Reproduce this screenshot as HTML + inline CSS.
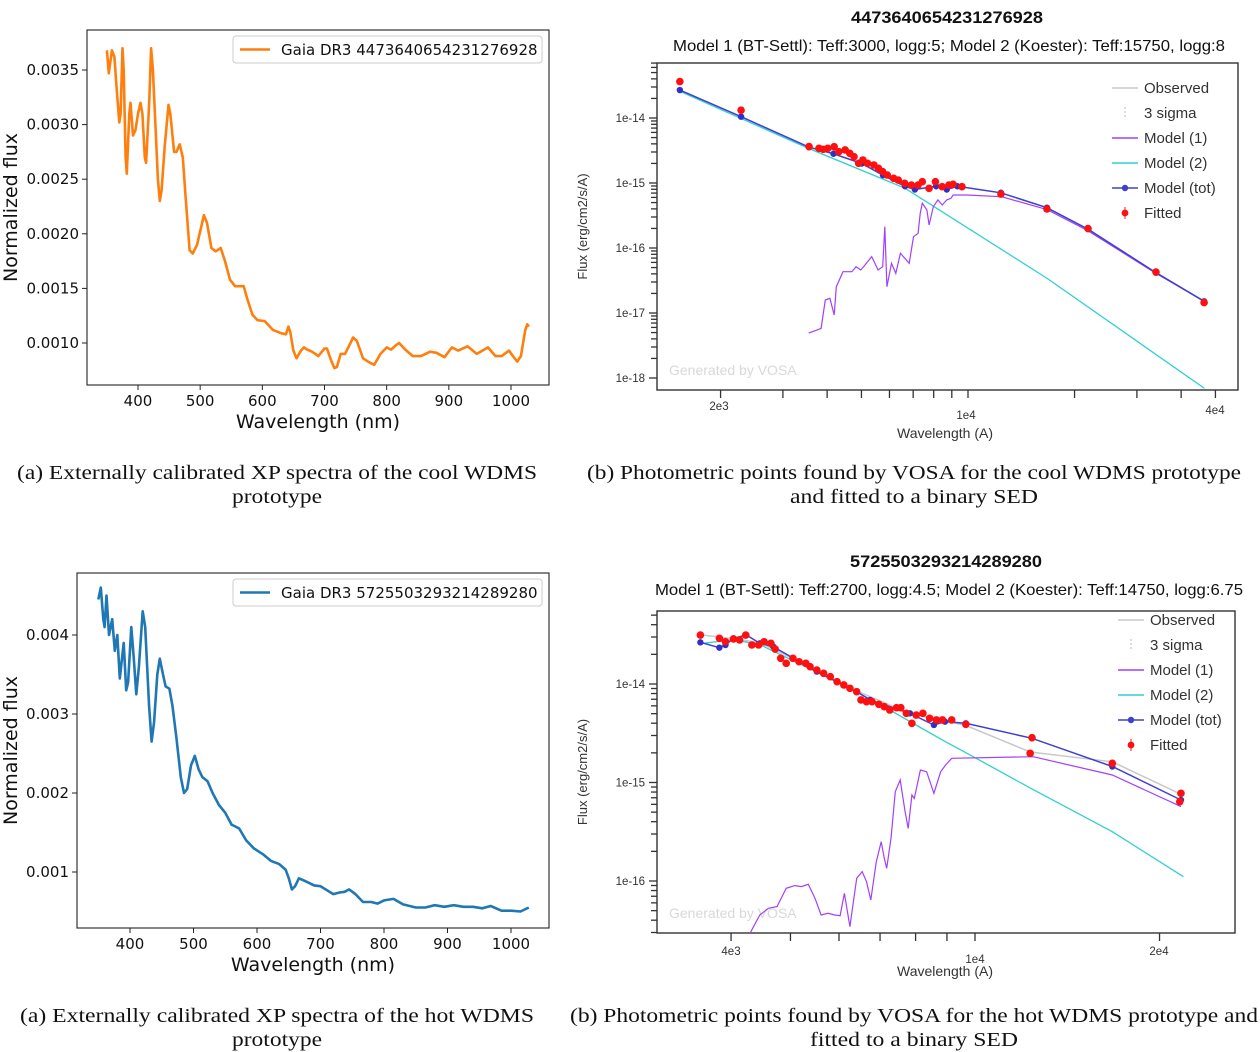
<!DOCTYPE html>
<html><head><meta charset="utf-8"><style>
body{margin:0;background:#fff;width:1260px;height:1052px;overflow:hidden}
svg{display:block}
.mpl{font-family:"DejaVu Sans","Liberation Sans",sans-serif}
.vs{font-family:"Liberation Sans",sans-serif}
.cap{font-family:"Liberation Serif",serif;font-size:20px;fill:#111}
</style></head><body>
<svg id="fig" width="1260" height="1052" viewBox="0 0 1260 1052" xmlns="http://www.w3.org/2000/svg">
<text class="cap" x="17" y="479" textLength="520" lengthAdjust="spacingAndGlyphs">(a) Externally calibrated XP spectra of the cool WDMS</text>
<text class="cap" x="232" y="503" textLength="90" lengthAdjust="spacingAndGlyphs">prototype</text>
<text class="cap" x="587" y="479" textLength="654" lengthAdjust="spacingAndGlyphs">(b) Photometric points found by VOSA for the cool WDMS prototype</text>
<text class="cap" x="790" y="503" textLength="248" lengthAdjust="spacingAndGlyphs">and fitted to a binary SED</text>
<text class="cap" x="20" y="1022" textLength="514" lengthAdjust="spacingAndGlyphs">(a) Externally calibrated XP spectra of the hot WDMS</text>
<text class="cap" x="232" y="1046" textLength="90" lengthAdjust="spacingAndGlyphs">prototype</text>
<text class="cap" x="570" y="1022" textLength="688" lengthAdjust="spacingAndGlyphs">(b) Photometric points found by VOSA for the hot WDMS prototype and</text>
<text class="cap" x="810" y="1046" textLength="208" lengthAdjust="spacingAndGlyphs">fitted to a binary SED</text>
</svg>
<script>
// ---------- data: cool spectrum ----------
const coolWave=[350,353,358,362,366,370,372,375,377,380,382,386,388,392,396,400,404,407,411,413,418,421,424,428,432,435,438,443,449,452,458,462,467,472,477,483,488,495,506,511,518,525,533,540,548,556,570,576,584,592,604,617,630,638,642,645,650,655,662,667,672,680,690,700,704,710,716,720,726,733,740,746,752,762,770,780,790,800,807,815,820,830,842,855,870,880,893,905,915,930,945,963,975,985,997,1003,1010,1016,1023,1026,1029];
const coolFlux=[0.00368,0.00347,0.00368,0.00362,0.0033,0.00302,0.0031,0.0037,0.0035,0.0027,0.00255,0.0031,0.0032,0.0029,0.00295,0.0031,0.0032,0.0031,0.0027,0.00265,0.0032,0.0037,0.0035,0.003,0.0025,0.0023,0.0024,0.0028,0.00318,0.0031,0.00275,0.00275,0.00282,0.0027,0.0023,0.00185,0.00182,0.0019,0.00217,0.0021,0.00187,0.00184,0.00187,0.00175,0.00158,0.00152,0.00152,0.0014,0.00126,0.00121,0.0012,0.00112,0.00109,0.00108,0.00115,0.0011,0.00093,0.00086,0.00093,0.00096,0.00094,0.00092,0.00088,0.00095,0.00095,0.00085,0.00077,0.00078,0.0009,0.0009,0.00098,0.00105,0.00102,0.00086,0.00083,0.0008,0.0009,0.00096,0.00094,0.00098,0.001,0.00094,0.00088,0.00088,0.00092,0.00091,0.00087,0.00096,0.00093,0.00097,0.0009,0.00096,0.00088,0.00088,0.00093,0.00088,0.00083,0.00088,0.00112,0.00117,0.00115];
const coolYTicks=[0.0010,0.0015,0.0020,0.0025,0.0030,0.0035];
const coolYLabels=["0.0010","0.0015","0.0020","0.0025","0.0030","0.0035"];
// ---------- data: hot spectrum ----------
const hotWave=[350,354,358,360,363,367,372,376,380,384,390,394,397,402,406,410,414,420,424,430,434,438,443,447,452,456,462,467,473,480,485,490,496,502,508,514,522,530,540,550,560,572,583,595,610,622,635,645,650,655,660,666,672,680,690,700,710,720,730,738,745,755,767,780,790,800,815,830,850,865,880,895,910,925,940,955,968,985,1000,1015,1028];
const hotFlux=[0.00445,0.0046,0.0042,0.0041,0.0045,0.004,0.0042,0.0038,0.004,0.00345,0.0039,0.0033,0.0034,0.0041,0.0037,0.00325,0.0036,0.0043,0.0041,0.0031,0.00265,0.0029,0.0035,0.0037,0.0035,0.00335,0.00332,0.0031,0.0027,0.0022,0.002,0.00205,0.00235,0.00247,0.0023,0.0022,0.00215,0.002,0.00185,0.00175,0.0016,0.00155,0.0014,0.0013,0.00122,0.00114,0.0011,0.00103,0.00092,0.00078,0.00082,0.00092,0.0009,0.00087,0.00083,0.00082,0.00077,0.00072,0.00074,0.00075,0.00078,0.00072,0.00062,0.00062,0.0006,0.00064,0.00066,0.00059,0.00055,0.00055,0.00058,0.00056,0.00058,0.00056,0.00056,0.00054,0.00057,0.00051,0.00051,0.0005,0.00055];
const hotYTicks=[0.001,0.002,0.003,0.004];
const hotYLabels=["0.001","0.002","0.003","0.004"];
const nmTicks=[400,500,600,700,800,900,1000];
// ---------- data: VOSA cool (log10 wavelength A, log10 flux) ----------
const c1TotLogW=[3.186,3.359,3.551,3.62,3.7,3.76,3.822,3.85,3.91,3.94,3.97,4.093,4.223,4.339,4.531,4.667];
const c1TotLogF=[-13.57,-13.98,-14.45,-14.55,-14.7,-14.88,-15.05,-15.1,-15.05,-15.1,-15.05,-15.15,-15.38,-15.71,-16.38,-16.82];
const c1FitLogW=[3.186,3.359,3.551,3.579,3.591,3.604,3.622,3.635,3.653,3.666,3.678,3.691,3.703,3.716,3.734,3.747,3.759,3.772,3.790,3.803,3.821,3.840,3.859,3.871,3.890,3.908,3.927,3.946,3.958,3.983,4.093,4.223,4.339,4.531,4.667];
const c1FitLogF=[-13.44,-13.88,-14.44,-14.467,-14.482,-14.467,-14.441,-14.518,-14.492,-14.543,-14.595,-14.697,-14.646,-14.697,-14.723,-14.774,-14.826,-14.877,-14.928,-14.954,-15.005,-15.031,-15.031,-14.98,-15.082,-14.98,-15.057,-15.031,-15.02,-15.057,-15.17,-15.4,-15.7,-16.37,-16.84];
const c1M1LogW=[3.550,3.585,3.597,3.610,3.622,3.628,3.647,3.672,3.684,3.697,3.709,3.728,3.746,3.759,3.765,3.771,3.784,3.796,3.809,3.834,3.846,3.859,3.865,3.871,3.884,3.890,3.902,3.915,3.927,3.940,3.952,3.958,3.996,4.095,4.224,4.338,4.531,4.668];
const c1M1LogF=[-17.31,-17.237,-16.8,-16.774,-17.03,-16.595,-16.364,-16.364,-16.287,-16.338,-16.262,-16.133,-16.338,-16.287,-15.67,-16.595,-16.236,-16.39,-16.082,-16.236,-15.826,-15.774,-15.467,-15.31,-15.415,-15.646,-15.364,-15.26,-15.338,-15.26,-15.236,-15.185,-15.185,-15.21,-15.41,-15.733,-16.39,-16.82];
const c1M2LogW=[3.186,3.551,3.822,4.224,4.668];
const c1M2LogF=[-13.59,-14.47,-15.08,-16.47,-18.16];
const c1XMinor=[2000,3000,4000,5000,6000,7000,8000,9000,10000,20000,30000,40000,50000];
// ---------- data: VOSA hot ----------
const h2FitLogW=[3.552,3.583,3.593,3.606,3.616,3.626,3.636,3.647,3.656,3.667,3.674,3.683,3.692,3.703,3.713,3.724,3.731,3.742,3.753,3.764,3.775,3.786,3.796,3.807,3.814,3.823,3.832,3.843,3.852,3.861,3.872,3.879,3.888,3.897,3.904,3.915,3.926,3.937,3.947,3.962,3.985,4.093,4.090,4.224,4.336,4.334];
const h2FitLogF=[-13.503,-13.536,-13.571,-13.543,-13.553,-13.503,-13.604,-13.604,-13.571,-13.587,-13.645,-13.739,-13.790,-13.739,-13.774,-13.790,-13.824,-13.858,-13.891,-13.926,-13.977,-14.010,-14.044,-14.078,-14.162,-14.180,-14.180,-14.206,-14.230,-14.264,-14.240,-14.240,-14.298,-14.399,-14.315,-14.298,-14.348,-14.365,-14.365,-14.365,-14.409,-14.545,-14.704,-14.805,-15.110,-15.195];
const h2TotLogW=[3.552,3.583,3.593,3.606,3.627,3.649,3.671,3.742,3.807,3.829,3.894,3.933,3.951,3.985,4.093,4.224,4.336];
const h2TotLogF=[-13.577,-13.631,-13.604,-13.536,-13.503,-13.587,-13.621,-13.874,-14.078,-14.162,-14.298,-14.416,-14.382,-14.399,-14.551,-14.838,-15.178];
const h2ObsLogW=[3.552,3.606,3.649,3.742,3.807,3.894,3.985,4.090,4.224,4.336];
const h2ObsLogF=[-13.50,-13.54,-13.58,-13.86,-14.07,-14.30,-14.42,-14.69,-14.79,-15.12];
const h2M1LogW=[3.633,3.649,3.663,3.677,3.692,3.706,3.717,3.728,3.739,3.749,3.760,3.771,3.780,3.787,3.796,3.807,3.816,3.823,3.830,3.839,3.847,3.852,3.856,3.863,3.870,3.878,3.886,3.891,3.897,3.901,3.911,3.921,3.933,3.944,3.952,3.962,4.095,4.224,4.336];
const h2M1LogF=[-16.531,-16.345,-16.277,-16.260,-16.074,-16.047,-16.057,-16.034,-16.176,-16.345,-16.328,-16.345,-16.352,-16.125,-16.464,-15.973,-15.905,-16.007,-16.193,-15.804,-15.601,-15.770,-15.871,-15.567,-15.093,-14.975,-15.296,-15.466,-15.127,-15.161,-14.873,-14.890,-15.110,-14.890,-14.822,-14.754,-14.738,-14.924,-15.245];
const h2M2LogW=[3.552,3.606,3.649,3.742,3.807,3.860,3.908,3.951,3.987,4.091,4.224,4.340];
const h2M2LogF=[-13.59,-13.55,-13.60,-13.88,-14.08,-14.26,-14.431,-14.583,-14.704,-15.059,-15.499,-15.956];
const h2XMinor=[4000,5000,6000,7000,8000,9000,10000,20000];

const NS="http://www.w3.org/2000/svg";
const fig=document.getElementById('fig');
function mk(tag,attrs,parent,txt){const e=document.createElementNS(NS,tag);for(const k in attrs)e.setAttribute(k,attrs[k]);if(txt!==undefined)e.textContent=txt;(parent||fig).appendChild(e);return e;}
function lin(d0,d1,p0,p1){return v=>p0+(v-d0)/(d1-d0)*(p1-p0);}
function pathD(xs,ys,sx,sy){return xs.map((x,i)=>(i?'L':'M')+sx(x).toFixed(1)+','+sy(ys[i]).toFixed(1)).join(' ');}

// ---------- matplotlib panels ----------
function mplPanel(o){
  const g=mk('g',{class:'mpl'});
  
  
  const sx=lin(400,1000,o.x400,o.x1000), sy=lin(o.yv0,o.yv1,o.yp0,o.yp1);
  const clip=mk('clipPath',{id:o.name+'-clip'},g);
  mk('rect',{x:o.L,y:o.T,width:o.R-o.L,height:o.B-o.T},clip);
  const line=mk('path',{d:pathD(o.wave,o.flux,sx,sy),fill:'none',stroke:o.color,'stroke-width':2.6,'stroke-linejoin':'round','clip-path':'url(#'+o.name+'-clip)'},g);
  
  
  const fr=mk('rect',{x:o.L,y:o.T,width:o.R-o.L,height:o.B-o.T,fill:'none',stroke:'#222','stroke-width':1.1},g);
  
  
  nmTicks.forEach(t=>{const x=sx(t);mk('line',{x1:x,x2:x,y1:o.B,y2:o.B+5,stroke:'#222'},g);
    const tl=mk('text',{x:x,y:o.B+21,'font-size':15,'text-anchor':'middle',fill:'#111'},g,String(t));
    
    });
  o.yt.forEach((t,i)=>{const y=sy(t);mk('line',{x1:o.L-5,x2:o.L,y1:y,y2:y,stroke:'#222'},g);
    const tl=mk('text',{x:o.L-8,y:y+5,'font-size':15,'text-anchor':'end',fill:'#111'},g,o.yl[i]);
    
    });
  const xl=mk('text',{x:(o.L+o.R)/2,y:o.B+43,'font-size':19,'text-anchor':'middle',fill:'#111'},g,'Wavelength (nm)');
  
  
  const yl=mk('text',{x:0,y:0,'font-size':19,'text-anchor':'middle',fill:'#111',transform:'translate(17,'+((o.T+o.B)/2)+') rotate(-90)'},g,'Normalized flux');
  
  
  const lg=mk('g',{},g);
  
  
  mk('rect',{x:233,y:o.T+6,width:309,height:27,rx:3,fill:'#fff',stroke:'#ccc'},lg);
  mk('line',{x1:240,x2:270,y1:o.T+19.5,y2:o.T+19.5,stroke:o.color,'stroke-width':2.6},lg);
  const lt=mk('text',{x:281,y:o.T+25,'font-size':15,fill:'#111'},lg,o.label);
  
  
}
mplPanel({name:'cool-spectrum-chart',L:87,R:549,T:30,B:385,x400:138,x1000:511,yv0:0.0035,yv1:0.0010,yp0:70,yp1:343,wave:coolWave,flux:coolFlux,color:'#ff7f0e',yt:coolYTicks,yl:coolYLabels,label:'Gaia DR3 4473640654231276928'});
mplPanel({name:'hot-spectrum-chart',L:77,R:549,T:573,B:928,x400:130,x1000:511,yv0:0.004,yv1:0.001,yp0:635,yp1:872,wave:hotWave,flux:hotFlux,color:'#1f77b4',yt:hotYTicks,yl:hotYLabels,label:'Gaia DR3 5725503293214289280'});

// ---------- VOSA panels ----------
function vosaPanel(o){
  const g=mk('g',{class:'vs'});
  
  
  const sx=lin(4,5,o.x1e4,o.x1e4+o.pxDec), sy=lin(-14,-15,o.y14,o.y14+o.pyDec);
  const clip=mk('clipPath',{id:o.name+'-clip'},g);
  mk('rect',{x:o.L,y:o.T,width:o.R-o.L,height:o.B-o.T},clip);
  const t1=mk('text',{x:o.tx,y:o.ty,'font-size':17,'font-weight':'bold',fill:'#111',textLength:192,lengthAdjust:'spacingAndGlyphs'},g,o.title);
  
  
  const t2=mk('text',{x:o.sx0,y:o.ty+28,'font-size':16,fill:'#111',textLength:o.sw,lengthAdjust:'spacingAndGlyphs'},g,o.sub);
  
  
  const fr=mk('rect',{x:o.L,y:o.T,width:o.R-o.L,height:o.B-o.T,fill:'#fff',stroke:'#333','stroke-width':1.4},g);
  
  
  const wm=mk('text',{x:o.L+12,y:o.wmY,'font-size':14,fill:'#d8d8d8'},g,'Generated by VOSA');
  
  
  const cp='url(#'+o.name+'-clip)';
  for(let d=o.decTop;d>=o.decBot;d--){for(let m=1;m<10;m++){const y=sy(d+Math.log10(m));if(y<o.T||y>o.B)continue;
    mk('line',{x1:o.L-(m===1?8:6),x2:o.L,y1:y,y2:y,stroke:'#333','stroke-width':1.3},g);}
    const y=sy(d);if(y>=o.T&&y<=o.B){const tl=mk('text',{x:o.L-12,y:y+4,'font-size':11.5,'text-anchor':'end',fill:'#333'},g,'1e'+d);
    
    }}
  o.xMinor.forEach(w=>{const x=sx(Math.log10(w));mk('line',{x1:x,x2:x,y1:o.B,y2:o.B+8,stroke:'#333','stroke-width':1.3},g);});
  o.xLabels.forEach(l=>{const tl=mk('text',{x:l[1],y:l[2],'font-size':11.5,'text-anchor':'middle',fill:'#333'},g,l[0]);
    
    });
  const xl=mk('text',{x:o.xlX,y:o.xlY,'font-size':14,'text-anchor':'middle',fill:'#333'},g,'Wavelength (A)');
  
  
  const yl=mk('text',{x:0,y:0,'font-size':13,'text-anchor':'middle',fill:'#333',transform:'translate(587,'+((o.T+o.B)/2)+') rotate(-90)'},g,'Flux (erg/cm2/s/A)');
  
  
  function series(xs,ys,col,w,name){const p=mk('path',{d:pathD(xs,ys,sx,sy),fill:'none',stroke:col,'stroke-width':w,'clip-path':cp},g);
    
    }
  series(o.obsW,o.obsF,'#c8c8c8',1.5,'observed-line');
  series(o.m2W,o.m2F,'#30d0d0',1.3,'model-2-line');
  series(o.m1W,o.m1F,'#a040ff',1.2,'model-1-line');
  series(o.totW,o.totF,'#4040d0',1.5,'model-tot-line');
  o.totW.forEach((w,i)=>{const c=mk('circle',{cx:sx(w),cy:sy(o.totF[i]),r:3.2,fill:'#3030c8','clip-path':cp},g);
    
    });
  o.fitW.forEach((w,i)=>{const c=mk('circle',{cx:sx(w),cy:sy(o.fitF[i]),r:3.8,fill:'#ff1010','clip-path':cp},g);
    
    });
  const lg=mk('g',{},g);
  
  
  const items=[['Observed','#c8c8c8','l'],['3 sigma','#bbb','e'],['Model (1)','#a040ff','l'],['Model (2)','#30d0d0','l'],['Model (tot)','#4040d0','p'],['Fitted','#ff1010','f']];
  items.forEach((it,i)=>{const y=o.lgY+i*25;
    if(it[2]==='l'||it[2]==='p')mk('line',{x1:o.lgX,x2:o.lgX+26,y1:y,y2:y,stroke:it[1],'stroke-width':1.6},lg);
    if(it[2]==='p')mk('circle',{cx:o.lgX+13,cy:y,r:3.2,fill:it[1]},lg);
    if(it[2]==='e')mk('line',{x1:o.lgX+13,x2:o.lgX+13,y1:y-6,y2:y+6,stroke:it[1],'stroke-dasharray':'2,2'},lg);
    if(it[2]==='f'){mk('line',{x1:o.lgX+13,x2:o.lgX+13,y1:y-6,y2:y+6,stroke:it[1]},lg);mk('circle',{cx:o.lgX+13,cy:y,r:3.4,fill:it[1]},lg);}
    const t=mk('text',{x:o.lgX+32,y:y+5,'font-size':15,fill:'#333'},lg,it[0]);
    
    });
}
vosaPanel({name:'cool-sed-chart',L:657,R:1238,T:63,B:390,x1e4:968,pxDec:354,y14:118,pyDec:65,decTop:-13,decBot:-18,
  tx:851,sx0:673,sw:552,ty:23,title:'4473640654231276928',sub:'Model 1 (BT-Settl): Teff:3000, logg:5; Model 2 (Koester): Teff:15750, logg:8',
  wmY:375,xMinor:c1XMinor,xLabels:[['2e3',719,410],['1e4',966,419],['4e4',1215,414]],xlX:945,xlY:438,lgX:1112,lgY:88,
  totW:c1TotLogW,totF:c1TotLogF,fitW:c1FitLogW,fitF:c1FitLogF,obsW:c1TotLogW,obsF:c1TotLogF,m1W:c1M1LogW,m1F:c1M1LogF,m2W:c1M2LogW,m2F:c1M2LogF});
vosaPanel({name:'hot-sed-chart',L:657,R:1235,T:611,B:933,x1e4:975,pxDec:613,y14:684,pyDec:98.5,decTop:-14,decBot:-17,
  tx:850,sx0:655,sw:588,ty:567,title:'5725503293214289280',sub:'Model 1 (BT-Settl): Teff:2700, logg:4.5; Model 2 (Koester): Teff:14750, logg:6.75',
  wmY:918,xMinor:h2XMinor,xLabels:[['4e3',731,955],['1e4',975,963],['2e4',1159,955]],xlX:945,xlY:976,lgX:1118,lgY:620,
  totW:h2TotLogW,totF:h2TotLogF,fitW:h2FitLogW,fitF:h2FitLogF,obsW:h2ObsLogW,obsF:h2ObsLogF,m1W:h2M1LogW,m1F:h2M1LogF,m2W:h2M2LogW,m2F:h2M2LogF});
</script>
</body></html>
